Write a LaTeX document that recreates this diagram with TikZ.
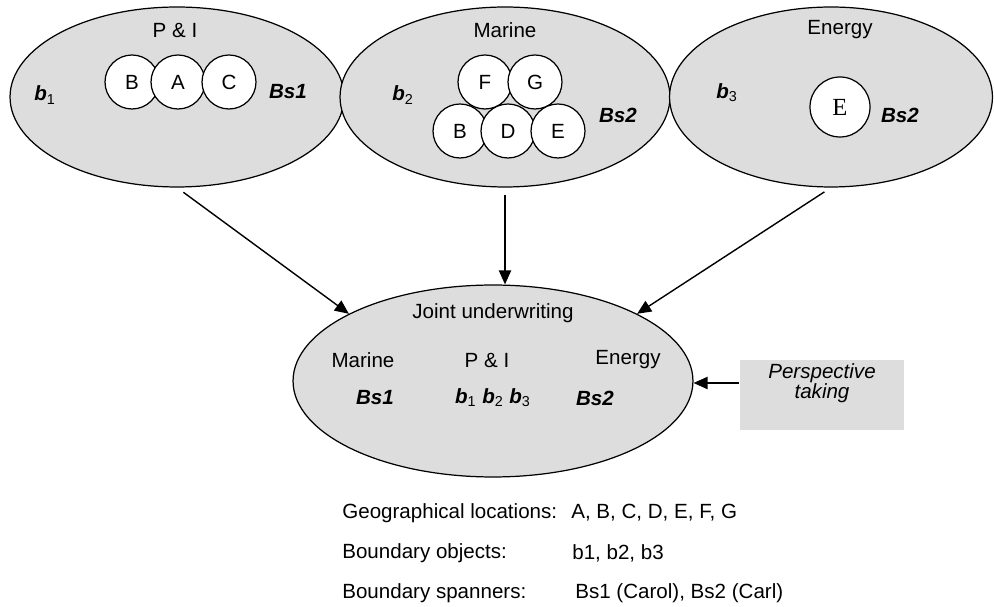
\documentclass[tikz,border=0pt]{standalone}
\usepackage{fontspec}
\setmainfont{Liberation Sans}
\newfontfamily\timesfont{Liberation Serif}
\usetikzlibrary{shapes.geometric,arrows.meta}

\definecolor{zonegray}{RGB}{221,221,221}

\newcommand{\bi}[1]{\textbf{\textit{#1}}}
\newcommand{\bsub}[1]{\bi{b}\textsubscript{#1}}

\begin{document}
\begin{tikzpicture}[x=0.02cm, y=-0.02cm, font=\fontsize{11.7}{14}\selectfont,
    zone/.style={ellipse, draw, line width=0.7pt, fill=zonegray, inner sep=0pt},
    loc/.style={circle, draw, line width=0.7pt, fill=white, minimum size=1.08cm, inner sep=0pt},
    arr/.style={-{Triangle[length=8pt,width=7pt]}, line width=0.8pt},
    legend/.style={anchor=west, inner sep=0pt}]

    \useasboundingbox (0,0) rectangle (994,607);

    % The three lines of business
    \node[zone, minimum width=6.68cm, minimum height=3.6cm] (pni) at (177,97) {};
    \node[zone, minimum width=6.6cm, minimum height=3.6cm] (marine) at (505,97) {};
    \node[zone, minimum width=6.46cm, minimum height=3.6cm] (energy) at (831,97) {};

    % P & I
    \node (pniLbl) at (175,30) {P \& I};
    \node[loc] (pniB) at (132,82) {B};
    \node[loc] (pniA) at (178,82) {A};
    \node[loc] (pniC) at (229,82) {C};
    \node (bone) at (45,95) {\bsub{1}};
    \node (bsone) at (288,92) {\bi{Bs1}};

    % Marine
    \node (marineLbl) at (505,30) {Marine};
    \node[loc] (marF) at (485,82) {F};
    \node[loc] (marG) at (535,82) {G};
    \node[loc] (marB) at (460,131) {B};
    \node[loc] (marD) at (508,131) {D};
    \node[loc] (marE) at (558,131) {E};
    \node (btwo) at (403,95) {\bsub{2}};
    \node (bstwoA) at (618,115) {\bi{Bs2}};

    % Energy
    \node (energyLbl) at (840,30) {Energy};
    \node[loc, minimum size=1.2cm, font=\timesfont\fontsize{14}{16}\selectfont] (enE) at (840,107) {E};
    \node (bthree) at (727,93) {\bsub{3}};
    \node (bstwoB) at (900,115) {\bi{Bs2}};

    % Joint underwriting
    \node[zone, minimum width=8.0cm, minimum height=3.84cm] (joint) at (493,381) {};
    \node (jointLbl) at (493,313) {Joint underwriting};
    \node (jMarine) at (363,360) {Marine};
    \node (jPni) at (487,360) {P \& I};
    \node (jEnergy) at (628,360) {Energy};
    \node (jBsone) at (375,398) {\bi{Bs1}};
    \node (jBobj) at (493,398) {\bsub{1} \bsub{2} \bsub{3}};
    \node (jBstwo) at (595,398) {\bi{Bs2}};

    % Perspective taking
    \node[fill=zonegray, minimum width=3.3cm, minimum height=1.4cm] (persp) at (822,395) {};
    \node[align=center, font=\fontsize{11.7}{11.2}\selectfont\itshape] (perspTxt) at (822,383) {Perspective\\taking};

    % Arrows into joint underwriting
    \draw[arr, shorten <=4.5pt] (pni.south) -- (joint.155);
    \draw[arr, shorten <=4.5pt] (marine.south) -- (joint.north -| marine.south);
    \draw[arr, shorten <=4.5pt] (energy.south) -- (joint.25);
    \draw[arr] (perspTxt -| persp.west) -- (perspTxt -| joint.east);

    % Legend
    \node[legend] (geoLbl) at (342,513) {Geographical locations:};
    \node[legend] (geoVal) at (571,513) {A, B, C, D, E, F, G};
    \node[legend] (objLbl) at (342,553) {Boundary objects:};
    \node[legend] (objVal) at (572,553) {b1, b2, b3};
    \node[legend] (spanLbl) at (342,593) {Boundary spanners:};
    \node[legend] (spanVal) at (575,593) {Bs1 (Carol), Bs2 (Carl)};

\end{tikzpicture}
\end{document}
